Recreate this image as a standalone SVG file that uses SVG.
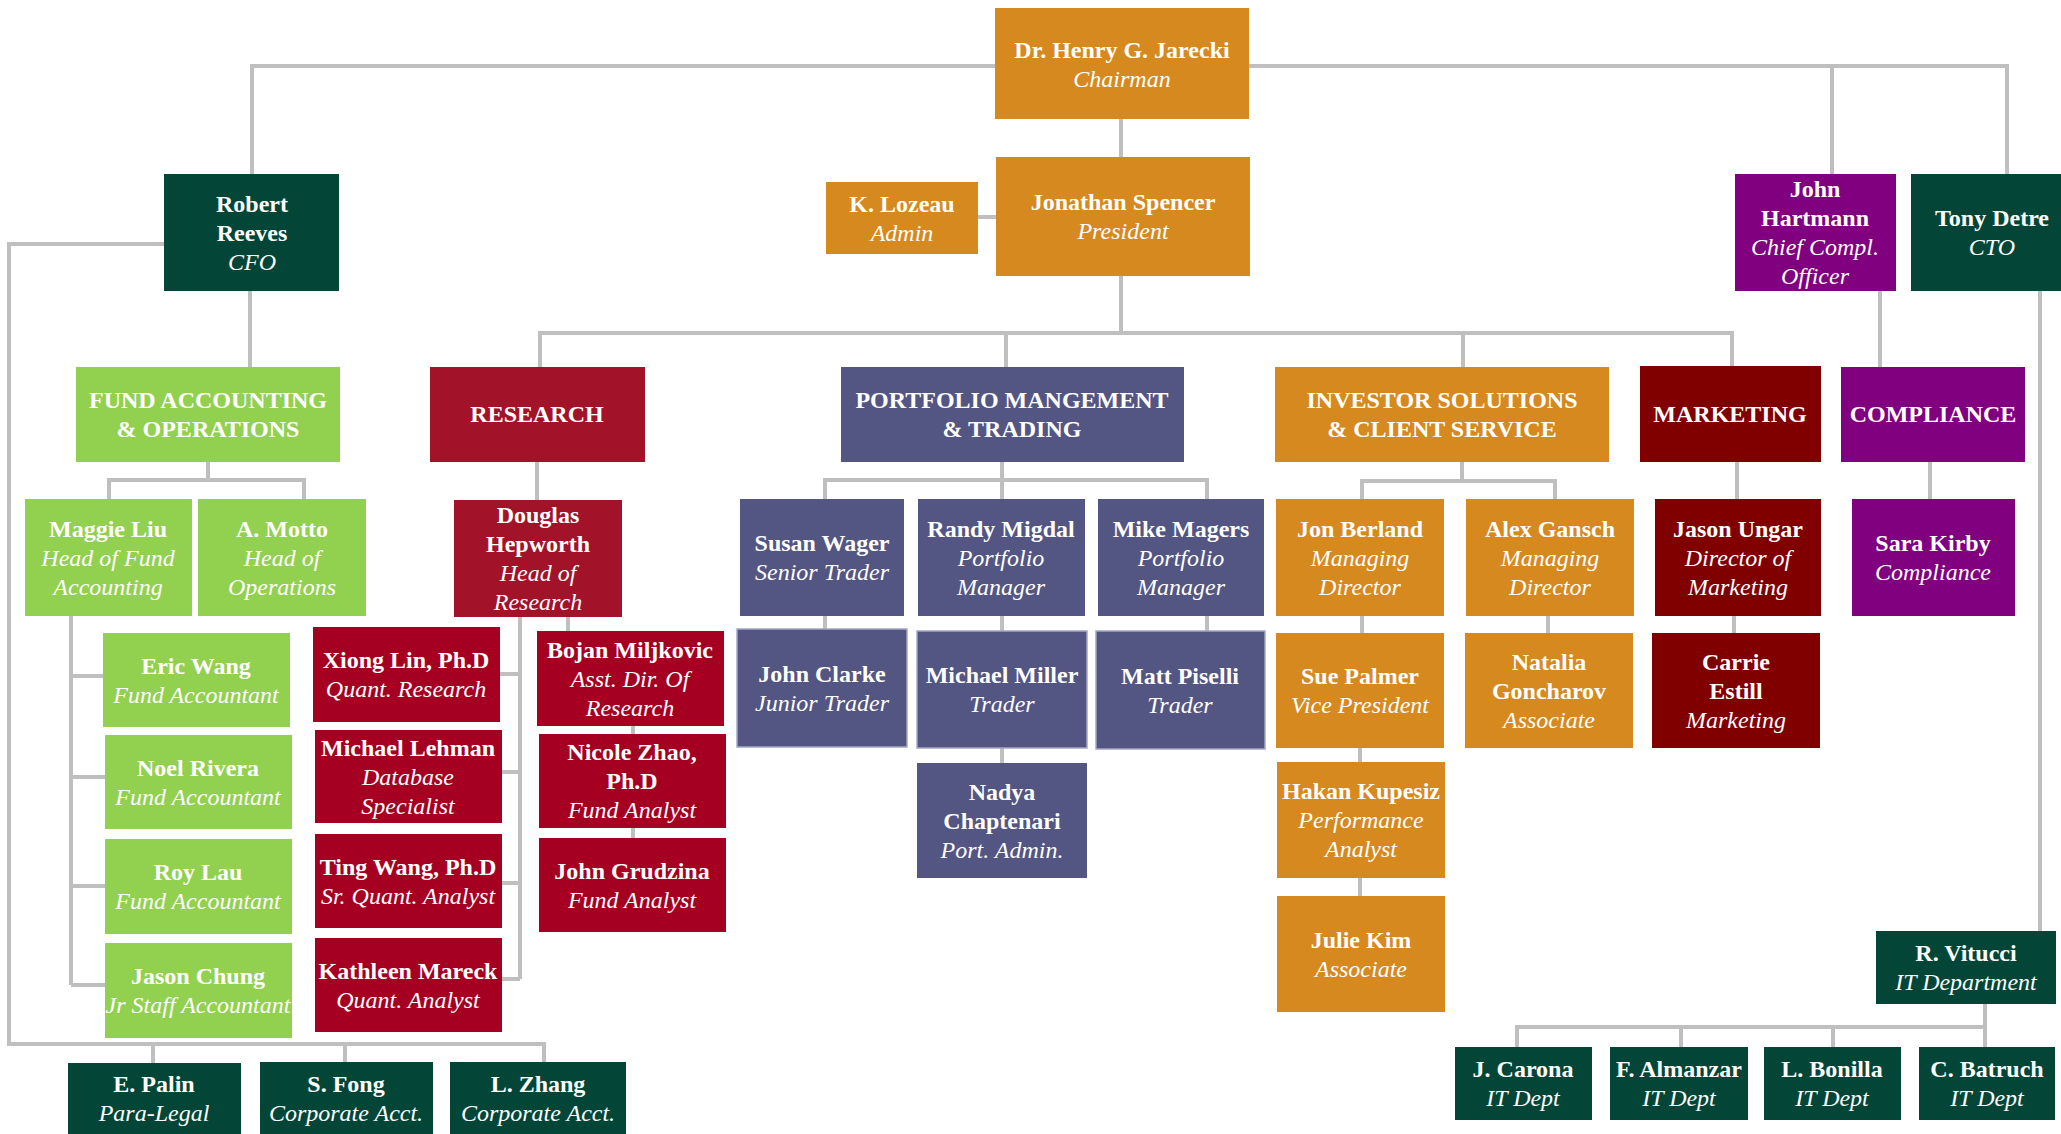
<svg xmlns="http://www.w3.org/2000/svg" width="2061" height="1134" viewBox="0 0 2061 1134">
<style>
text{font-family:"Liberation Serif","Times New Roman",serif;font-size:24px;fill:#fff;text-anchor:middle}
.b{font-weight:bold}
.i{font-style:italic}
.or{fill:#D6891F}.dg{fill:#034638}.lg{fill:#92D050}.rh{fill:#A21229}.rm{fill:#A50021}
.pb{fill:#535583}.mr{fill:#800000}.pu{fill:#800080}
.ol{stroke:#A4A6C4;stroke-width:1.5}
#connectors path{fill:none;stroke:#BFBFBF;stroke-width:4}
</style>
<rect width="2061" height="1134" fill="#fff"/>
<g id="connectors">
<path d="M252,174V66H2007V174"/>
<path d="M1832,68V174"/>
<path d="M1121,119V157"/>
<path d="M978,217H996"/>
<path d="M1121,276V333"/>
<path d="M540,367V333H1732V366"/>
<path d="M1006,333V367"/>
<path d="M1463,333V367"/>
<path d="M164,244H9V1044H544V1063"/>
<path d="M153,1044V1063M345,1044V1063"/>
<path d="M250,291V367"/>
<path d="M208,462V480M109,499V480H304V499"/>
<path d="M71,616V985M71,676H103M71,777H105M71,886H105M71,985H105"/>
<path d="M537,462V500"/>
<path d="M520,617V979M500,674H520M502,772H520M502,883H520M502,979H520"/>
<path d="M568,617V631"/>
<path d="M633,726V734M633,828V838"/>
<path d="M1002,462V499M825,499V480H1207V499"/>
<path d="M825,616V629M1002,616V631M1002,748V763M1207,616V631"/>
<path d="M1462,462V481M1362,499V481H1555V499"/>
<path d="M1362,616V633M1360,748V762M1360,878V896"/>
<path d="M1548,616V633"/>
<path d="M1737,461V499M1734,616V633"/>
<path d="M1880,291V367M1930,462V499"/>
<path d="M2040,291V931"/>
<path d="M1985,1004V1047M1517,1047V1027H1985M1681,1027V1047M1833,1027V1047"/>
</g>
<g id="chairman"><rect class="or" x="995" y="8" width="254" height="111"/><text class="b" x="1122" y="58">Dr. Henry G. Jarecki</text><text class="i" x="1122" y="87">Chairman</text></g>
<g id="president"><rect class="or" x="996" y="157" width="254" height="119"/><text class="b" x="1123" y="210">Jonathan Spencer</text><text class="i" x="1123" y="239">President</text></g>
<g id="lozeau"><rect class="or" x="826" y="182" width="152" height="72"/><text class="b" x="902" y="212">K. Lozeau</text><text class="i" x="902" y="241">Admin</text></g>
<g id="reeves"><rect class="dg" x="164" y="174" width="175" height="117"/><text class="b" x="252" y="212">Robert</text><text class="b" x="252" y="241">Reeves</text><text class="i" x="252" y="270">CFO</text></g>
<g id="hartmann"><rect class="pu" x="1735" y="174" width="161" height="117"/><text class="b" x="1815" y="197">John</text><text class="b" x="1815" y="226">Hartmann</text><text class="i" x="1815" y="255">Chief Compl.</text><text class="i" x="1815" y="284">Officer</text></g>
<g id="detre"><rect class="dg" x="1911" y="174" width="160" height="117"/><text class="b" x="1992" y="226">Tony Detre</text><text class="i" x="1992" y="255">CTO</text></g>
<g id="fund-accounting"><rect class="lg" x="76" y="367" width="264" height="95"/><text class="b" x="208" y="408">FUND ACCOUNTING</text><text class="b" x="208" y="437">&amp; OPERATIONS</text></g>
<g id="research"><rect class="rh" x="430" y="367" width="215" height="95"/><text class="b" x="537" y="422">RESEARCH</text></g>
<g id="portfolio"><rect class="pb" x="841" y="367" width="343" height="95"/><text class="b" x="1012" y="408">PORTFOLIO MANGEMENT</text><text class="b" x="1012" y="437">&amp; TRADING</text></g>
<g id="investor"><rect class="or" x="1275" y="367" width="334" height="95"/><text class="b" x="1442" y="408">INVESTOR SOLUTIONS</text><text class="b" x="1442" y="437">&amp; CLIENT SERVICE</text></g>
<g id="marketing"><rect class="mr" x="1640" y="366" width="181" height="96"/><text class="b" x="1730" y="422">MARKETING</text></g>
<g id="compliance"><rect class="pu" x="1841" y="367" width="184" height="95"/><text class="b" x="1933" y="422">COMPLIANCE</text></g>
<g id="liu"><rect class="lg" x="25" y="499" width="167" height="117"/><text class="b" x="108" y="537">Maggie Liu</text><text class="i" x="108" y="566">Head of Fund</text><text class="i" x="108" y="595">Accounting</text></g>
<g id="motto"><rect class="lg" x="198" y="499" width="168" height="117"/><text class="b" x="282" y="537">A. Motto</text><text class="i" x="282" y="566">Head of</text><text class="i" x="282" y="595">Operations</text></g>
<g id="hepworth"><rect class="rh" x="454" y="500" width="168" height="117"/><text class="b" x="538" y="523">Douglas</text><text class="b" x="538" y="552">Hepworth</text><text class="i" x="538" y="581">Head of</text><text class="i" x="538" y="610">Research</text></g>
<g id="wager"><rect class="pb" x="740" y="499" width="164" height="117"/><text class="b" x="822" y="551">Susan Wager</text><text class="i" x="822" y="580">Senior Trader</text></g>
<g id="migdal"><rect class="pb" x="918" y="499" width="167" height="117"/><text class="b" x="1001" y="537">Randy Migdal</text><text class="i" x="1001" y="566">Portfolio</text><text class="i" x="1001" y="595">Manager</text></g>
<g id="magers"><rect class="pb" x="1098" y="499" width="166" height="117"/><text class="b" x="1181" y="537">Mike Magers</text><text class="i" x="1181" y="566">Portfolio</text><text class="i" x="1181" y="595">Manager</text></g>
<g id="berland"><rect class="or" x="1276" y="499" width="168" height="117"/><text class="b" x="1360" y="537">Jon Berland</text><text class="i" x="1360" y="566">Managing</text><text class="i" x="1360" y="595">Director</text></g>
<g id="gansch"><rect class="or" x="1466" y="499" width="168" height="117"/><text class="b" x="1550" y="537">Alex Gansch</text><text class="i" x="1550" y="566">Managing</text><text class="i" x="1550" y="595">Director</text></g>
<g id="ungar"><rect class="mr" x="1655" y="499" width="166" height="117"/><text class="b" x="1738" y="537">Jason Ungar</text><text class="i" x="1738" y="566">Director of</text><text class="i" x="1738" y="595">Marketing</text></g>
<g id="kirby"><rect class="pu" x="1852" y="499" width="163" height="117"/><text class="b" x="1933" y="551">Sara Kirby</text><text class="i" x="1933" y="580">Compliance</text></g>
<g id="wang-eric"><rect class="lg" x="103" y="633" width="187" height="94"/><text class="b" x="196" y="674">Eric Wang</text><text class="i" x="196" y="703">Fund Accountant</text></g>
<g id="rivera"><rect class="lg" x="105" y="735" width="187" height="94"/><text class="b" x="198" y="776">Noel Rivera</text><text class="i" x="198" y="805">Fund Accountant</text></g>
<g id="lau"><rect class="lg" x="105" y="839" width="187" height="95"/><text class="b" x="198" y="880">Roy Lau</text><text class="i" x="198" y="909">Fund Accountant</text></g>
<g id="chung"><rect class="lg" x="105" y="943" width="187" height="95"/><text class="b" x="198" y="984">Jason Chung</text><text class="i" x="198" y="1013">Jr Staff Accountant</text></g>
<g id="lin"><rect class="rm" x="313" y="627" width="187" height="95"/><text class="b" x="406" y="668">Xiong Lin, Ph.D</text><text class="i" x="406" y="697">Quant. Research</text></g>
<g id="lehman"><rect class="rm" x="315" y="730" width="187" height="93"/><text class="b" x="408" y="756">Michael Lehman</text><text class="i" x="408" y="785">Database</text><text class="i" x="408" y="814">Specialist</text></g>
<g id="wang-ting"><rect class="rm" x="315" y="834" width="187" height="94"/><text class="b" x="408" y="875">Ting Wang, Ph.D</text><text class="i" x="408" y="904">Sr. Quant. Analyst</text></g>
<g id="mareck"><rect class="rm" x="315" y="938" width="187" height="94"/><text class="b" x="408" y="979">Kathleen Mareck</text><text class="i" x="408" y="1008">Quant. Analyst</text></g>
<g id="miljkovic"><rect class="rm" x="537" y="631" width="187" height="95"/><text class="b" x="630" y="658">Bojan Miljkovic</text><text class="i" x="630" y="687">Asst. Dir. Of</text><text class="i" x="630" y="716">Research</text></g>
<g id="zhao"><rect class="rm" x="539" y="734" width="187" height="94"/><text class="b" x="632" y="760">Nicole Zhao,</text><text class="b" x="632" y="789">Ph.D</text><text class="i" x="632" y="818">Fund Analyst</text></g>
<g id="grudzina"><rect class="rm" x="539" y="838" width="187" height="94"/><text class="b" x="632" y="879">John Grudzina</text><text class="i" x="632" y="908">Fund Analyst</text></g>
<g id="clarke"><rect class="pb ol" x="737" y="629" width="170" height="118"/><text class="b" x="822" y="682">John Clarke</text><text class="i" x="822" y="711">Junior Trader</text></g>
<g id="miller"><rect class="pb ol" x="917" y="631" width="170" height="117"/><text class="b" x="1002" y="683">Michael Miller</text><text class="i" x="1002" y="712">Trader</text></g>
<g id="piselli"><rect class="pb ol" x="1096" y="631" width="169" height="118"/><text class="b" x="1180" y="684">Matt Piselli</text><text class="i" x="1180" y="713">Trader</text></g>
<g id="chaptenari"><rect class="pb" x="917" y="763" width="170" height="115"/><text class="b" x="1002" y="800">Nadya</text><text class="b" x="1002" y="829">Chaptenari</text><text class="i" x="1002" y="858">Port. Admin.</text></g>
<g id="palmer"><rect class="or" x="1276" y="633" width="168" height="115"/><text class="b" x="1360" y="684">Sue Palmer</text><text class="i" x="1360" y="713">Vice President</text></g>
<g id="goncharov"><rect class="or" x="1465" y="633" width="168" height="115"/><text class="b" x="1549" y="670">Natalia</text><text class="b" x="1549" y="699">Goncharov</text><text class="i" x="1549" y="728">Associate</text></g>
<g id="kupesiz"><rect class="or" x="1277" y="762" width="168" height="116"/><text class="b" x="1361" y="799">Hakan Kupesiz</text><text class="i" x="1361" y="828">Performance</text><text class="i" x="1361" y="857">Analyst</text></g>
<g id="kim"><rect class="or" x="1277" y="896" width="168" height="116"/><text class="b" x="1361" y="948">Julie Kim</text><text class="i" x="1361" y="977">Associate</text></g>
<g id="estill"><rect class="mr" x="1652" y="633" width="168" height="115"/><text class="b" x="1736" y="670">Carrie</text><text class="b" x="1736" y="699">Estill</text><text class="i" x="1736" y="728">Marketing</text></g>
<g id="palin"><rect class="dg" x="68" y="1063" width="173" height="71"/><text class="b" x="154" y="1092">E. Palin</text><text class="i" x="154" y="1121">Para-Legal</text></g>
<g id="fong"><rect class="dg" x="260" y="1062" width="173" height="72"/><text class="b" x="346" y="1092">S. Fong</text><text class="i" x="346" y="1121">Corporate Acct.</text></g>
<g id="zhang"><rect class="dg" x="450" y="1062" width="176" height="72"/><text class="b" x="538" y="1092">L. Zhang</text><text class="i" x="538" y="1121">Corporate Acct.</text></g>
<g id="vitucci"><rect class="dg" x="1876" y="931" width="180" height="73"/><text class="b" x="1966" y="961">R. Vitucci</text><text class="i" x="1966" y="990">IT Department</text></g>
<g id="carona"><rect class="dg" x="1455" y="1047" width="137" height="73"/><text class="b" x="1523" y="1077">J. Carona</text><text class="i" x="1523" y="1106">IT Dept</text></g>
<g id="almanzar"><rect class="dg" x="1610" y="1047" width="138" height="73"/><text class="b" x="1679" y="1077">F. Almanzar</text><text class="i" x="1679" y="1106">IT Dept</text></g>
<g id="bonilla"><rect class="dg" x="1764" y="1047" width="137" height="73"/><text class="b" x="1832" y="1077">L. Bonilla</text><text class="i" x="1832" y="1106">IT Dept</text></g>
<g id="batruch"><rect class="dg" x="1919" y="1047" width="136" height="73"/><text class="b" x="1987" y="1077">C. Batruch</text><text class="i" x="1987" y="1106">IT Dept</text></g>
</svg>
